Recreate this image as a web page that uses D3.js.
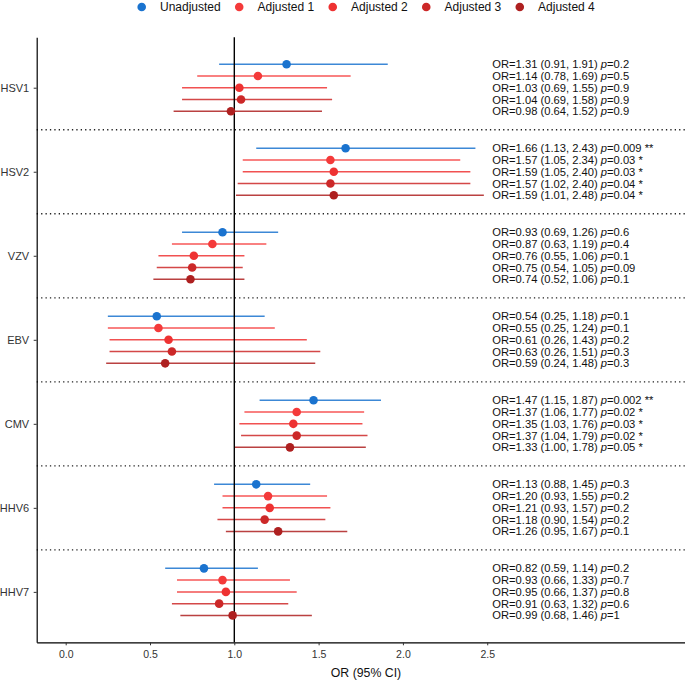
<!DOCTYPE html>
<html>
<head>
<meta charset="utf-8">
<script src="https://cdn.jsdelivr.net/npm/d3@7"></script>
<style>
  html, body { margin: 0; padding: 0; background: #fff; }
  svg { display: block; font-family: "Liberation Sans", Arial, Helvetica, sans-serif; }
</style>
</head>
<body>
<svg id="chart" width="685" height="682"></svg>
<script>
// ---- data ----
const categories = ["HSV1", "HSV2", "VZV", "EBV", "CMV", "HHV6", "HHV7"];
const models = ["Unadjusted", "Adjusted 1", "Adjusted 2", "Adjusted 3", "Adjusted 4"];
const modelColors = ["#1a73cf", "#f43a3a", "#ee3232", "#cc2828", "#ae2020"];

const orValues = [
  [1.31, 1.14, 1.03, 1.04, 0.98],
  [1.66, 1.57, 1.59, 1.57, 1.59],
  [0.93, 0.87, 0.76, 0.75, 0.74],
  [0.54, 0.55, 0.61, 0.63, 0.59],
  [1.47, 1.37, 1.35, 1.37, 1.33],
  [1.13, 1.20, 1.21, 1.18, 1.26],
  [0.82, 0.93, 0.95, 0.91, 0.99]
];
const lowerValues = [
  [0.91, 0.78, 0.69, 0.69, 0.64],
  [1.13, 1.05, 1.05, 1.02, 1.01],
  [0.69, 0.63, 0.55, 0.54, 0.52],
  [0.25, 0.25, 0.26, 0.26, 0.24],
  [1.15, 1.06, 1.03, 1.04, 1.00],
  [0.88, 0.93, 0.93, 0.90, 0.95],
  [0.59, 0.66, 0.66, 0.63, 0.68]
];
const upperValues = [
  [1.91, 1.69, 1.55, 1.58, 1.52],
  [2.43, 2.34, 2.40, 2.40, 2.48],
  [1.26, 1.19, 1.06, 1.05, 1.06],
  [1.18, 1.24, 1.43, 1.51, 1.48],
  [1.87, 1.77, 1.76, 1.79, 1.78],
  [1.45, 1.55, 1.57, 1.54, 1.67],
  [1.14, 1.33, 1.37, 1.32, 1.46]
];
const pValues = [
  ["0.2", "0.5", "0.9", "0.9", "0.9"],
  ["0.009", "0.03", "0.03", "0.04", "0.04"],
  ["0.6", "0.4", "0.1", "0.09", "0.1"],
  ["0.1", "0.1", "0.2", "0.3", "0.3"],
  ["0.002", "0.02", "0.03", "0.02", "0.05"],
  ["0.3", "0.2", "0.2", "0.2", "0.1"],
  ["0.2", "0.7", "0.8", "0.6", "1"]
];
const stars = [
  ["", "", "", "", ""],
  ["**", "*", "*", "*", "*"],
  ["", "", "", "", ""],
  ["", "", "", "", ""],
  ["**", "*", "*", "*", "*"],
  ["", "", "", "", ""],
  ["", "", "", "", ""]
];
const xTicks = [0, 0.5, 1, 1.5, 2, 2.5];
const refLine = 1;
const labelX = 2.53;
const dodgeStep = 0.14;

// ---- build rows ----
const rows = [];
categories.forEach((c, i) => {
  models.forEach((m, j) => {
    rows.push({cat: c, ci: i, model: m, mi: j,
      or: orValues[i][j], lo: lowerValues[i][j], hi: upperValues[i][j],
      p: pValues[i][j], star: stars[i][j]});
  });
});

const svg = d3.select("#chart");
const pLeft = 36.7, pRight = 685, pTop = 37.3, pBottom = 642.3;

const x = d3.scaleLinear().domain([-0.172, 3.673]).range([pLeft, pRight]);
const y = d3.scaleLinear().domain([0.4, categories.length + 0.6]).range([pTop, pBottom]);
const color = d3.scaleOrdinal().domain(models).range(modelColors);
const rowY = d => y(d.ci + 1 + (d.mi - 2) * dodgeStep);
const fmt = d3.format(".2f");

// separators
const seps = d3.range(1, categories.length).map(k => k + 0.5);
svg.append("g").selectAll("line").data(seps).join("line")
  .attr("x1", pLeft).attr("x2", pRight)
  .attr("y1", d => y(d)).attr("y2", d => y(d))
  .attr("stroke", "#222").attr("stroke-width", 1.3)
  .attr("stroke-dasharray", "1.3,3.1");

// error bars
svg.append("g").selectAll("line").data(rows).join("line")
  .attr("x1", d => x(d.lo)).attr("x2", d => x(d.hi))
  .attr("y1", rowY).attr("y2", rowY)
  .attr("stroke", d => color(d.model)).attr("stroke-width", 1.5)
  .attr("stroke-opacity", 0.85);

// reference line
svg.append("line")
  .attr("x1", x(refLine)).attr("x2", x(refLine))
  .attr("y1", pTop).attr("y2", pBottom)
  .attr("stroke", "#000").attr("stroke-width", 1.4);

// points
svg.append("g").selectAll("circle").data(rows).join("circle")
  .attr("cx", d => x(d.or)).attr("cy", rowY).attr("r", 4.3)
  .attr("fill", d => color(d.model));

// labels
const lab = svg.append("g").selectAll("text").data(rows).join("text")
  .attr("x", x(labelX)).attr("y", rowY).attr("dy", "0.36em")
  .attr("font-size", 11.2).attr("fill", "#111");
lab.append("tspan").text(d => `OR=${fmt(d.or)} (${fmt(d.lo)}, ${fmt(d.hi)}) `);
lab.append("tspan").attr("font-style", "italic").text("p");
lab.append("tspan").text(d => `=${d.p}` + (d.star ? " " + d.star : ""));

// axes
const xAxis = svg.append("g").attr("transform", `translate(0,${pBottom})`)
  .call(d3.axisBottom(x).tickValues(xTicks).tickFormat(d3.format(".1f"))
    .tickSize(3).tickSizeOuter(0).tickPadding(5));
xAxis.select(".domain").attr("stroke", "#000").attr("stroke-width", 1.2);
xAxis.selectAll(".tick line").attr("stroke", "#333");
xAxis.selectAll("text").attr("font-size", 10.5).attr("fill", "#333")
  .attr("font-family", "Liberation Sans, Arial, sans-serif");

const yAxis = svg.append("g").attr("transform", `translate(${pLeft},0)`)
  .call(d3.axisLeft(y).tickValues(d3.range(1, categories.length + 1))
    .tickFormat(d => categories[d - 1]).tickSize(3).tickSizeOuter(0).tickPadding(4.5));
yAxis.select(".domain").attr("stroke", "#000").attr("stroke-width", 1.2);
yAxis.selectAll(".tick line").attr("stroke", "#333");
yAxis.selectAll("text").attr("font-size", 11).attr("fill", "#333")
  .attr("font-family", "Liberation Sans, Arial, sans-serif");

// axis title
svg.append("text").attr("x", 366).attr("y", 677)
  .attr("text-anchor", "middle").attr("font-size", 12.3).attr("fill", "#111")
  .text("OR (95% CI)");

// legend
const leg = svg.append("g");
let lx = 141.7;
models.forEach((m, j) => {
  leg.append("circle").attr("cx", lx).attr("cy", 7).attr("r", 4.3).attr("fill", color(m));
  const t = leg.append("text").attr("x", lx + 18.3).attr("y", 11.3)
    .attr("font-size", 12).attr("fill", "#111").text(m);
  const w = t.node().getComputedTextLength();
  lx = lx + 18.3 + w + 18.5;
});
</script>
</body>
</html>
